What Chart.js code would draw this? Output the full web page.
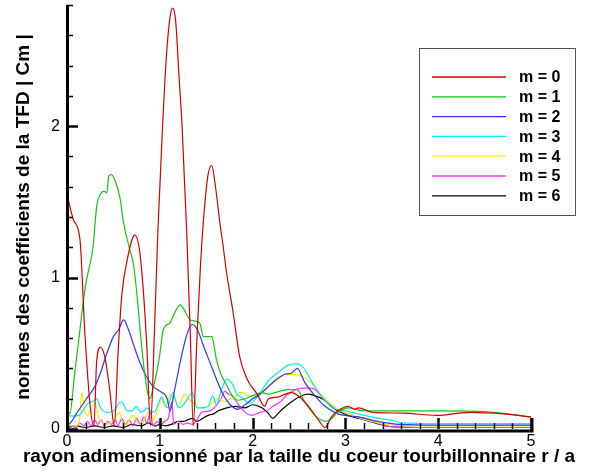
<!DOCTYPE html>
<html lang="fr">
<head>
<meta charset="UTF-8">
<title>Normes des coefficients de la TFD</title>
<script src="https://cdn.jsdelivr.net/npm/chart.js"></script>
<style>
    html, body { margin: 0; padding: 0; background: #fff; }
    #wrap { width: 592px; height: 474px; }
</style>
</head>
<body>
<div id="wrap"><canvas id="tfdChart" width="592" height="474"></canvas></div>
<script>
// |Cm| en fonction de r / a, un tableau [r, |Cm|] par mode m
const m0 = [[0,1.55],[0.07,1.38],[0.14,1.25],[0.19,0.66],[0.25,0.15],[0.29,0.02],[0.32,0.45],[0.36,0.54],[0.41,0.47],[0.46,0.26],[0.51,0.02],[0.55,0.5],[0.59,0.88],[0.65,1.12],[0.73,1.28],[0.79,1.14],[0.86,0.55],[0.9,0.02],[0.94,0.6],[0.98,1.32],[1.03,2.0],[1.07,2.45],[1.11,2.72],[1.14,2.78],[1.17,2.7],[1.21,2.3],[1.24,2.0],[1.29,1.3],[1.33,0.6],[1.36,0.02],[1.4,0.6],[1.44,1.1],[1.48,1.45],[1.52,1.68],[1.56,1.74],[1.6,1.6],[1.65,1.35],[1.68,1.22],[1.72,1.03],[1.79,0.77],[1.86,0.48],[1.94,0.33],[2.05,0.23],[2.13,0.15],[2.17,0.2],[2.27,0.21],[2.35,0.23],[2.42,0.24],[2.49,0.22],[2.56,0.18],[2.64,0.12],[2.72,0.05],[2.78,0.01],[2.85,0.08],[2.92,0.12],[3.03,0.15],[3.1,0.13],[3.14,0.14],[3.29,0.11],[3.62,0.105],[3.98,0.09],[4.34,0.11],[4.7,0.1],[5,0.08]];
const m1 = [[0,0.15],[0.03,0.1],[0.08,0.35],[0.14,0.66],[0.2,0.95],[0.28,1.2],[0.32,1.47],[0.36,1.55],[0.4,1.57],[0.43,1.56],[0.45,1.67],[0.48,1.68],[0.53,1.62],[0.57,1.53],[0.61,1.36],[0.67,1.2],[0.72,1.07],[0.76,0.85],[0.79,0.64],[0.84,0.35],[0.89,0.2],[0.94,0.3],[0.99,0.45],[1.04,0.66],[1.11,0.7],[1.14,0.74],[1.22,0.82],[1.26,0.79],[1.33,0.72],[1.43,0.7],[1.47,0.61],[1.56,0.61],[1.61,0.46],[1.66,0.36],[1.72,0.29],[1.78,0.22],[1.84,0.19],[1.92,0.2],[2.0,0.22],[2.1,0.24],[2.17,0.23],[2.24,0.24],[2.38,0.26],[2.48,0.26],[2.56,0.18],[2.67,0.09],[2.8,0.05],[2.92,0.11],[3.03,0.14],[3.2,0.12],[3.5,0.12],[4.0,0.12],[4.5,0.115],[5,0.08]];
const m2 = [[0,0.02],[0.05,0.05],[0.1,0.1],[0.21,0.2],[0.3,0.28],[0.36,0.37],[0.43,0.5],[0.5,0.61],[0.56,0.66],[0.61,0.72],[0.66,0.66],[0.71,0.57],[0.76,0.48],[0.82,0.39],[0.88,0.32],[0.93,0.28],[1.0,0.25],[1.08,0.2],[1.11,0.12],[1.16,0.26],[1.24,0.5],[1.3,0.64],[1.35,0.69],[1.41,0.65],[1.47,0.55],[1.54,0.44],[1.61,0.33],[1.68,0.23],[1.76,0.16],[1.84,0.13],[1.92,0.16],[2.0,0.2],[2.08,0.23],[2.17,0.28],[2.26,0.33],[2.34,0.36],[2.42,0.37],[2.48,0.4],[2.56,0.31],[2.67,0.22],[2.78,0.15],[2.92,0.1],[3.14,0.08],[3.35,0.05],[3.59,0.03],[4,0.025],[5,0.025]];
const m3 = [[0,0.09],[0.06,0.085],[0.13,0.09],[0.19,0.14],[0.23,0.17],[0.27,0.18],[0.32,0.2],[0.36,0.14],[0.43,0.11],[0.52,0.13],[0.56,0.17],[0.59,0.18],[0.62,0.15],[0.65,0.12],[0.7,0.12],[0.75,0.15],[0.79,0.11],[0.83,0.12],[0.86,0.14],[0.9,0.12],[0.94,0.11],[0.98,0.16],[1.02,0.21],[1.05,0.17],[1.08,0.14],[1.11,0.19],[1.14,0.24],[1.17,0.19],[1.2,0.14],[1.24,0.15],[1.3,0.2],[1.35,0.24],[1.38,0.18],[1.4,0.14],[1.46,0.14],[1.52,0.15],[1.57,0.22],[1.61,0.16],[1.66,0.25],[1.72,0.33],[1.78,0.3],[1.83,0.23],[1.88,0.21],[1.97,0.17],[2.06,0.22],[2.17,0.32],[2.27,0.37],[2.38,0.42],[2.48,0.43],[2.54,0.41],[2.64,0.31],[2.75,0.21],[2.86,0.14],[3.0,0.12],[3.14,0.1],[3.35,0.07],[3.48,0.06],[3.62,0.04],[4,0.035],[5,0.035]];
const m4 = [[0,0.03],[0.08,0.02],[0.13,0.04],[0.16,0.24],[0.19,0.12],[0.22,0.09],[0.26,0.14],[0.3,0.17],[0.34,0.08],[0.38,0.04],[0.43,0.03],[0.48,0.05],[0.53,0.09],[0.56,0.11],[0.6,0.04],[0.64,0.03],[0.68,0.07],[0.72,0.09],[0.76,0.04],[0.8,0.03],[0.84,0.07],[0.88,0.11],[0.91,0.05],[0.95,0.08],[0.99,0.16],[1.02,0.21],[1.05,0.15],[1.08,0.17],[1.11,0.23],[1.15,0.2],[1.2,0.15],[1.24,0.2],[1.27,0.23],[1.31,0.2],[1.35,0.18],[1.41,0.14],[1.46,0.14],[1.52,0.15],[1.58,0.18],[1.63,0.2],[1.7,0.18],[1.76,0.2],[1.81,0.21],[1.86,0.24],[1.9,0.24],[1.95,0.22],[1.99,0.22],[2.05,0.23],[2.1,0.25],[2.21,0.3],[2.28,0.33],[2.35,0.36],[2.46,0.36],[2.56,0.34],[2.64,0.3],[2.75,0.22],[2.89,0.14],[3.07,0.09],[3.29,0.05],[3.5,0.025],[4,0.02],[5,0.02]];
const m5 = [[0,0.03],[0.05,0.02],[0.1,0.01],[0.14,0.04],[0.18,0.02],[0.22,0.05],[0.26,0.02],[0.3,0.06],[0.33,0.03],[0.37,0.06],[0.4,0.02],[0.44,0.05],[0.48,0.03],[0.52,0.06],[0.55,0.02],[0.59,0.07],[0.63,0.03],[0.67,0.06],[0.71,0.02],[0.75,0.07],[0.79,0.03],[0.83,0.08],[0.86,0.04],[0.9,0.11],[0.93,0.02],[0.97,0.05],[1.01,0.03],[1.05,0.05],[1.09,0.07],[1.13,0.18],[1.15,0.03],[1.2,0.05],[1.25,0.03],[1.3,0.04],[1.35,0.03],[1.4,0.06],[1.45,0.11],[1.54,0.12],[1.6,0.15],[1.66,0.2],[1.7,0.25],[1.74,0.23],[1.78,0.22],[1.85,0.16],[1.92,0.11],[1.99,0.09],[2.08,0.11],[2.15,0.12],[2.22,0.15],[2.3,0.18],[2.38,0.23],[2.53,0.27],[2.64,0.27],[2.75,0.21],[2.89,0.14],[3.07,0.09],[3.29,0.05],[3.5,0.015],[4,0.01],[5,0.01]];
const m6 = [[0,0.01],[0.1,0.02],[0.2,0.01],[0.3,0.02],[0.4,0.01],[0.5,0.02],[0.6,0.01],[0.7,0.03],[0.8,0.02],[0.88,0.04],[0.95,0.02],[1.0,0.03],[1.06,0.02],[1.12,0.03],[1.2,0.05],[1.25,0.05],[1.3,0.06],[1.35,0.07],[1.4,0.05],[1.46,0.07],[1.52,0.09],[1.58,0.1],[1.63,0.12],[1.72,0.14],[1.81,0.15],[1.92,0.14],[2.0,0.16],[2.1,0.14],[2.16,0.11],[2.22,0.07],[2.27,0.1],[2.32,0.13],[2.42,0.18],[2.53,0.22],[2.6,0.23],[2.67,0.22],[2.75,0.2],[2.89,0.13],[3.03,0.09],[3.21,0.06],[3.5,0.015],[4,0.01],[5,0.01]];

const modes = [m0, m1, m2, m3, m4, m5, m6];
const labels = ['m = 0', 'm = 1', 'm = 2', 'm = 3', 'm = 4', 'm = 5', 'm = 6'];
const colors = ['#d40000', '#10c810', '#3535ee', '#00f0f0', '#f0f000', '#ff30ff', '#000000'];

// axes : graduations principales et secondaires
const xMax = 5, xMajorStep = 1, xMinorStep = 0.2;
const yMax = 2.8, yMajorTicks = [0, 1, 2], yMinorStep = 0.2;
const xTitle = 'rayon adimensionné par la taille du coeur tourbillonnaire r / a';

const FONT = "'Liberation Sans', Arial, sans-serif";

// cadre façon Tecplot : axes épais, graduations vers l'intérieur
const axesPlugin = {
    id: 'axesTecplot',
    afterDatasetsDraw(chart) {
        const { ctx, chartArea: a, scales: { x, y } } = chart;
        ctx.save();
        ctx.strokeStyle = '#000';
        ctx.lineCap = 'butt';

        const nx = Math.round(xMax / xMinorStep);
        for (let i = 0; i <= nx; i++) {
            const v = i * xMinorStep;
            const major = Math.abs(v / xMajorStep - Math.round(v / xMajorStep)) < 1e-6;
            const px = Math.round(x.getPixelForValue(v)) + 0.5;
            ctx.lineWidth = major ? 2.5 : 1.5;
            ctx.beginPath();
            ctx.moveTo(px, a.bottom);
            ctx.lineTo(px, a.bottom - (major ? 11 : 6));
            ctx.stroke();
        }

        const ny = Math.round(yMax / yMinorStep);
        for (let i = 0; i <= ny; i++) {
            const v = i * yMinorStep;
            const major = yMajorTicks.some(t => Math.abs(t - v) < 1e-6);
            const py = Math.round(y.getPixelForValue(v)) + 0.5;
            ctx.lineWidth = major ? 2.5 : 1.5;
            ctx.beginPath();
            ctx.moveTo(a.left, py);
            ctx.lineTo(a.left + (major ? 11 : 6), py);
            ctx.stroke();
        }

        ctx.lineWidth = 3;
        ctx.beginPath();
        ctx.moveTo(a.left + 0.5, a.top);
        ctx.lineTo(a.left + 0.5, a.bottom + 2);
        ctx.lineTo(a.right + 1, a.bottom + 2);
        ctx.lineTo(a.right + 1, a.bottom - 11);
        ctx.stroke();

        // titre de l'axe r / a, plus large que la zone du graphe
        ctx.font = 'bold 19px ' + FONT;
        ctx.fillStyle = '#000';
        ctx.textAlign = 'center';
        ctx.textBaseline = 'middle';
        ctx.fillText(xTitle, (a.left + a.right) / 2, 457);
        ctx.restore();
    }
};

// légende encadrée en haut à droite
const legendPlugin = {
    id: 'legendeModes',
    afterDraw(chart) {
        const { ctx } = chart;
        const box = { x: 419.5, y: 48.5, w: 156, h: 167 };
        ctx.save();
        ctx.strokeStyle = '#555';
        ctx.lineWidth = 1;
        ctx.strokeRect(box.x, box.y, box.w, box.h);
        ctx.font = 'bold 16px ' + FONT;
        ctx.textBaseline = 'middle';
        ctx.fillStyle = '#000';
        chart.data.datasets.forEach((ds, i) => {
            const yy = 77 + i * 19.8;
            ctx.strokeStyle = ds.borderColor;
            ctx.lineWidth = 1.3;
            ctx.beginPath();
            ctx.moveTo(432, yy);
            ctx.lineTo(506, yy);
            ctx.stroke();
            ctx.fillText(ds.label, 519, yy + 1);
        });
        ctx.restore();
    }
};

new Chart(document.getElementById('tfdChart'), {
    type: 'line',
    data: {
        datasets: modes.map((pts, i) => ({
            label: labels[i],
            data: pts.map(p => ({ x: p[0], y: p[1] })),
            borderColor: colors[i],
            borderWidth: 1.2,
            pointRadius: 0,
            cubicInterpolationMode: 'monotone',
            fill: false
        }))
    },
    options: {
        responsive: false,
        animation: false,
        devicePixelRatio: 1,
        layout: { padding: { top: 5, right: 61, left: 0, bottom: 0 } },
        plugins: { legend: { display: false }, tooltip: { enabled: false } },
        scales: {
            x: {
                type: 'linear',
                min: 0,
                max: xMax,
                grid: { display: false, drawTicks: false },
                border: { display: false },
                ticks: { stepSize: xMajorStep, padding: 3, color: '#000', font: { family: FONT, size: 16 } },
                afterFit(s) { s.height = 45; s.paddingLeft = 0; s.paddingRight = 0; }
            },
            y: {
                type: 'linear',
                min: 0,
                max: yMax,
                grid: { display: false, drawTicks: false },
                border: { display: false },
                afterBuildTicks(s) { s.ticks = yMajorTicks.map(v => ({ value: v })); },
                ticks: { padding: 7, color: '#000', font: { family: FONT, size: 16 } },
                title: {
                    display: true,
                    text: 'normes des coefficients de la TFD | Cm |',
                    color: '#000',
                    font: { family: FONT, size: 19, weight: 'bold' },
                    padding: { top: 12, bottom: 0 }
                },
                afterFit(s) { s.width = 67; s.paddingTop = 0; s.paddingBottom = 0; }
            }
        }
    },
    plugins: [axesPlugin, legendPlugin]
});
</script>
</body>
</html>
